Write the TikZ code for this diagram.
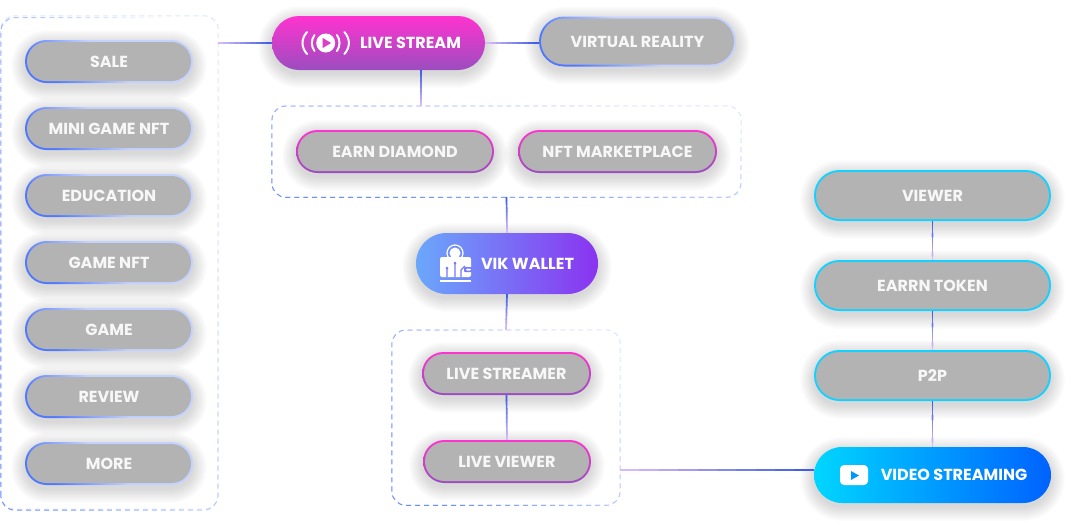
\documentclass[tikz,border=0pt]{standalone}
\usepackage{fontspec}
\setmainfont{Poppins}
\usetikzlibrary{calc,backgrounds,fadings}
\definecolor{pillgrey}{HTML}{B3B3B3}
\definecolor{linkblue}{HTML}{3F5FE8}
\definecolor{linkpale}{HTML}{E6C4F7}
\definecolor{dashblue}{HTML}{6E8FFF}
\definecolor{dashpale}{HTML}{DCE3FF}
\definecolor{ringblue}{HTML}{4F78FF}
\definecolor{ringpale}{HTML}{C4D2FF}
\definecolor{pinktop}{HTML}{FF33CF}
\definecolor{pinkbottom}{HTML}{9B4DC0}
\definecolor{ringcyan}{HTML}{14D2FF}
\definecolor{walletleft}{HTML}{6AA8FB}
\definecolor{walletright}{HTML}{8A33F0}
\definecolor{videoleft}{HTML}{00D6FF}
\definecolor{videoright}{HTML}{0062FF}
\tikzfading[name=cornerfade, left color=transparent!0, right color=transparent!100]
\tikzset{
    pilltext/.style={text=#1, font=\fontsize{16}{18}\selectfont\bfseries, inner sep=0pt, text height=11pt, text depth=0pt},
    pillsize/.style 2 args={minimum width=#1pt, minimum height=#2pt, rounded corners={(#2)*0.5pt}},
    ringpill/.style 2 args={pillsize={#1}{#2}, pilltext=white!97!black,
        path picture={\fill[pillgrey, rounded corners={(#2-4)*0.5pt}]
            ($(path picture bounding box.south west)+(2pt,2pt)$) rectangle
            ($(path picture bounding box.north east)+(-2pt,-2pt)$);}},
    bluepill/.style 2 args={ringpill={#1}{#2}, shade, left color=ringblue, right color=ringpale, middle color=ringpale, shading angle=135},
    pinkpill/.style 2 args={ringpill={#1}{#2}, shade, top color=pinktop, bottom color=pinkbottom},
    cyanpill/.style 2 args={ringpill={#1}{#2}, fill=ringcyan},
    dashbox/.style 2 args={minimum width=#1pt, minimum height=#2pt, rounded corners=14pt, inner sep=0pt},
    icon/.style={white, line width=2pt, line cap=round},
}
\newcommand{\softshadow}[2]{%
    \begin{pgfonlayer}{background}
    \foreach \g in {0,1.5,...,13.5} {
        \fill[black, opacity=0.014, rounded corners={(#2+\g)*1pt}]
            ($(#1.south west)+(-\g pt,-\g pt-4pt)$) rectangle ($(#1.north east)+(\g pt,\g pt-4pt)$);
    }
    \end{pgfonlayer}}
\newcommand{\gradlink}[2]{%
    \foreach \t [evaluate=\t as \pct using {int(100-\t*10)}] in {0,...,9} {
        \draw[line width=1.7pt, color=linkblue!\pct!linkpale]
            ($(#1)!{\t/10}!(#2)$) -- ($(#1)!{min(1,(\t+1.2)/10)}!(#2)$);
    }}
\newcommand{\dashedframe}[1]{%
    \draw[dashpale, line width=1pt, dash pattern=on 5pt off 4pt, rounded corners=14pt]
        (#1.south west) rectangle (#1.north east);
    \draw[dashblue, line width=1pt, dash pattern=on 5pt off 4pt, rounded corners=14pt, path fading=cornerfade, fading angle=35]
        (#1.south west) rectangle (#1.north east);}
\begin{document}
\begin{tikzpicture}[x=1pt, y=-1pt]
    \useasboundingbox (0,0) rectangle (1071,528);
    \node[dashbox={217}{493}] (leftBox) at (109.5,262.5) {};
    \node[dashbox={469}{91}] (topBox) at (506.5,151.5) {};
    \node[dashbox={228}{175}] (bottomBox) at (506,417.5) {};
    \dashedframe{leftBox}
    \dashedframe{topBox}
    \dashedframe{bottomBox}

    \foreach \name/\cy/\lab in {sale/61.5/SALE, miniGame/128.5/MINI GAME NFT, education/195.5/EDUCATION,
        gameNft/262.5/GAME NFT, game/329.5/GAME, review/396.5/REVIEW, more/463.5/MORE} {
        \node[bluepill={168}{43}] (\name) at (109,\cy) {\lab};
        \softshadow{\name}{21.5}
    }
    \node[bluepill={197}{50}] (virtualReality) at (637.5,41.5) {VIRTUAL REALITY};
    \softshadow{virtualReality}{25}
    \node[pinkpill={198}{43}] (earnDiamond) at (395,151.5) {EARN DIAMOND};
    \softshadow{earnDiamond}{21.5}
    \node[pinkpill={199}{43}] (nftMarket) at (617.5,151.5) {NFT MARKETPLACE};
    \softshadow{nftMarket}{21.5}
    \node[pinkpill={169}{43}] (liveStreamer) at (506.5,373.5) {LIVE STREAMER};
    \softshadow{liveStreamer}{21.5}
    \node[pinkpill={168}{43}] (liveViewer) at (507,461.5) {LIVE VIEWER};
    \softshadow{liveViewer}{21.5}
    \node[cyanpill={237}{51}] (viewer) at (932.5,195.5) {VIEWER};
    \softshadow{viewer}{25.5}
    \node[cyanpill={237}{51}] (earnToken) at (932.5,285.5) {EARRN TOKEN};
    \softshadow{earnToken}{25.5}
    \node[cyanpill={237}{51}] (ptop) at (932.5,375.5) {P2P};
    \softshadow{ptop}{25.5}

    \node[pillsize={213}{54}, shade, top color=pinktop, bottom color=pinkbottom, pilltext=white]
        (liveStream) at (378.5,43) {\hspace*{64pt}LIVE STREAM};
    \softshadow{liveStream}{27}
    \node[pillsize={182}{61}, shade, left color=walletleft, right color=walletright, pilltext=white]
        (vikWallet) at (507,263.5) {\hspace*{41pt}VIK WALLET};
    \softshadow{vikWallet}{30.5}
    \node[pillsize={237}{56}, shade, left color=videoleft, right color=videoright, pilltext=white]
        (videoStreaming) at (932.5,475) {\hspace*{43pt}VIDEO STREAMING};
    \softshadow{videoStreaming}{28}

    \coordinate (leftPort) at (218,43);
    \coordinate (streamPort) at (421,70);
    \coordinate (topPort) at (421,106);
    \coordinate (boxPort) at (620,470);
    \coordinate (videoPort) at (814,470);
    \gradlink{liveStream.west}{leftPort}
    \gradlink{virtualReality.west |- liveStream.east}{liveStream.east}
    \gradlink{streamPort}{topPort}
    \gradlink{topBox.south}{vikWallet.north}
    \gradlink{vikWallet.south}{bottomBox.north}
    \gradlink{liveStreamer.south}{liveViewer.north}
    \gradlink{viewer.south}{earnToken.north}
    \gradlink{earnToken.south}{ptop.north}
    \gradlink{ptop.south}{videoStreaming.north}
    \gradlink{videoPort}{boxPort}

    % live stream icon
    \fill[white] (325.7,43) circle (9.5);
    \fill[pinktop!70!pinkbottom] (322.7,38) -- (331,43) -- (322.7,48) -- cycle;
    \draw[icon] (314.5,35) .. controls (311,40) and (311,46) .. (314.5,51);
    \draw[icon] (307,32) .. controls (301,39) and (301,47) .. (307,54);
    \draw[icon] (336.9,35) .. controls (340.4,40) and (340.4,46) .. (336.9,51);
    \draw[icon] (344.4,32) .. controls (350.4,39) and (350.4,47) .. (344.4,54);
    % wallet icon
    \draw[white, line width=1.2pt] (455,253) circle (8);
    \fill[white] (455,253) circle (5.5);
    \fill[white, rounded corners=2pt] (440,257) rectangle (471,277);
    \fill[white] (440,279.5) rectangle (471,282);
    \draw[walletleft!60!walletright, line width=1.2pt] (447,277) -- (447,269) (455,277) -- (455,264) (461,277) -- (461,270) -- (465,266);
    \fill[walletleft!60!walletright] (447,268) circle (1.5) (455,263) circle (1.5);
    \fill[walletleft!60!walletright, rounded corners=1pt] (464,267) rectangle (472,272);
    \fill[white, rounded corners=1pt] (466,268.5) rectangle (471,270.5);
    % video icon
    \fill[white, rounded corners=4pt] (840,465) rectangle (868,485);
    \fill[videoleft!45!videoright] (851,471) -- (859,475.5) -- (851,480) -- cycle;
\end{tikzpicture}
\end{document}
